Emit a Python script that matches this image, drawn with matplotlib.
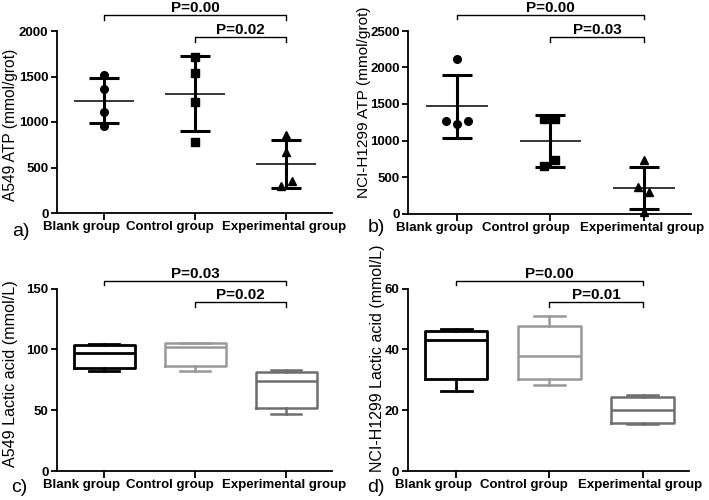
import numpy as np
import matplotlib.pyplot as plt

plt.rcParams['font.family'] = ['Liberation Sans', 'DejaVu Sans']

groups = ["Blank group", "Control group", "Experimental group"]

# a) A549 ATP, individual values (mmol/grot)
a549_atp = [[1511, 1365, 1106, 960],
            [1712, 1536, 1215, 777],
            [854, 668, 350, 299]]
# b) NCI-H1299 ATP
h1299_atp = [[2114, 1264, 1227, 1264],
             [1296, 1296, 727, 650],
             [727, 364, 291, 14]]
# horizontal spread of overlapping points (category units)
a549_jitter = [[0, 0, 0, 0], [0, 0, 0, 0], [0, 0, 0.06, -0.06]]
h1299_jitter = [[0, -0.12, 0, 0.12], [-0.065, 0.05, 0.05, -0.065], [0, -0.065, 0.055, 0]]

# c) A549 lactic acid box stats (whislo, q1, med, q3, whishi)
a549_lac = [[82.5, 84.6, 97, 103.3, 104.4],
            [82.2, 86.5, 102.2, 105, 105.2],
            [46.5, 52, 74, 81.3, 83]]
# d) NCI-H1299 lactic acid
h1299_lac = [[26.4, 30.3, 43.1, 46.05, 46.7],
             [28.2, 30.3, 37.8, 47.7, 50.8],
             [15.4, 15.9, 20.1, 24.2, 24.9]]

# p-value brackets: (label, bracket y, drop y) for Blank-Exp and Control-Exp
a_p = [("P=0.00", 2176, 2121), ("P=0.02", 1934, 1879)]
b_p = [("P=0.00", 2724, 2660), ("P=0.03", 2421, 2353)]
c_p = [("P=0.03", 156.5, 153), ("P=0.02", 139.2, 135.1)]
d_p = [("P=0.00", 62.6, 61.2), ("P=0.01", 55.7, 54)]

markers = ['o', 's', '^']
box_colors = ['black', '#999999', '#6e6e6e']
# group labels are squeezed left of their ticks (points)
label_shift = [-16.5, -18, -1.5]

fig = plt.figure(figsize=(7.09, 5.0), dpi=100)
ax_a = fig.add_axes([0.080, 0.574, 0.388, 0.364])
ax_b = fig.add_axes([0.576, 0.573, 0.398, 0.365])
ax_c = fig.add_axes([0.080, 0.058, 0.388, 0.365])
ax_d = fig.add_axes([0.575, 0.058, 0.397, 0.365])


def style_axis(ax, ymax, yticks, ylabel, ysize, lxy, tag, tag_xy):
    ax.set_xlim(-0.52, 2.5)
    ax.set_ylim(0, ymax)
    ax.set_yticks(yticks)
    ax.set_xticks(range(3))
    ax.set_xticklabels([])
    for s in ['top', 'right']:
        ax.spines[s].set_visible(False)
    for s in ['left', 'bottom']:
        ax.spines[s].set_linewidth(1.3)
    ax.tick_params(axis='y', length=4, width=1.3, pad=2, labelsize=9.5)
    ax.tick_params(axis='x', length=5, width=1.3)
    for lbl in ax.get_yticklabels():
        lbl.set_fontweight('bold')
    for i, (name, dx) in enumerate(zip(groups, label_shift)):
        ax.annotate(name, xy=(i, 0), xycoords=('data', 'axes fraction'),
                    xytext=(dx, -6), textcoords='offset points',
                    ha='center', va='top', fontsize=9.5, fontweight='bold')
    ax.set_ylabel(ylabel, fontsize=ysize)
    ax.yaxis.set_label_coords(*lxy)
    fig.text(tag_xy[0] / 709, 1 - tag_xy[1] / 500, tag, fontsize=14,
             ha='center', va='center')


def brackets(ax, plist):
    starts = [0, 1]
    for (label, y, ydrop), x0 in zip(plist, starts):
        ax.plot([x0, x0, 2, 2], [ydrop, y, y, ydrop], color='black',
                lw=1.0, clip_on=False)
        ax.text((x0 + 2) / 2, y, label, ha='center', va='bottom',
                fontsize=11, fontweight='bold', clip_on=False)


def scatter_panel(ax, data, jitter):
    for i, (vals, jit) in enumerate(zip(data, jitter)):
        vals = np.array(vals, dtype=float)
        xs = i + np.array(jit)
        ax.plot(xs, vals, linestyle='none', marker=markers[i], ms=5.5,
                color='black', zorder=3, clip_on=False)
        m = vals.mean()
        sd = vals.std(ddof=1)
        ax.errorbar(i, m, yerr=sd, color='black', elinewidth=2.2,
                    capsize=11, capthick=2.2, zorder=2)
        ax.hlines(m, i - 0.33, i + 0.33, color='black', lw=1.1, zorder=2)


def box_panel(ax, data):
    for i, (st, col) in enumerate(zip(data, box_colors)):
        stats = [dict(whislo=st[0], q1=st[1], med=st[2], q3=st[3],
                      whishi=st[4])]
        lw = 2.0 if i == 0 else 1.8
        ax.bxp(stats, positions=[i], widths=0.67, capwidths=0.33,
               showfliers=False,
               boxprops=dict(color=col, lw=lw),
               medianprops=dict(color=col, lw=lw),
               whiskerprops=dict(color=col, lw=lw),
               capprops=dict(color=col, lw=lw))


scatter_panel(ax_a, a549_atp, a549_jitter)
style_axis(ax_a, 2000, [0, 500, 1000, 1500, 2000], "A549 ATP (mmol/grot)",
           11.2, (-0.142, 0.486), "a)", (21, 231))
brackets(ax_a, a_p)

scatter_panel(ax_b, h1299_atp, h1299_jitter)
style_axis(ax_b, 2500, [0, 500, 1000, 1500, 2000, 2500],
           "NCI-H1299 ATP (mmol/grot)", 11.1, (-0.131, 0.609), "b)", (376, 228))
brackets(ax_b, b_p)

box_panel(ax_c, a549_lac)
style_axis(ax_c, 150, [0, 50, 100, 150], "A549 Lactic acid (mmol/L)",
           11.6, (-0.141, 0.536), "c)", (19, 488))
brackets(ax_c, c_p)

box_panel(ax_d, h1299_lac)
style_axis(ax_d, 60, [0, 20, 40, 60], "NCI-H1299 Lactic acid (mmol/L)",
           11.5, (-0.079, 0.618), "d)", (376, 488))
brackets(ax_d, d_p)

fig.savefig("out.png", dpi=100)
